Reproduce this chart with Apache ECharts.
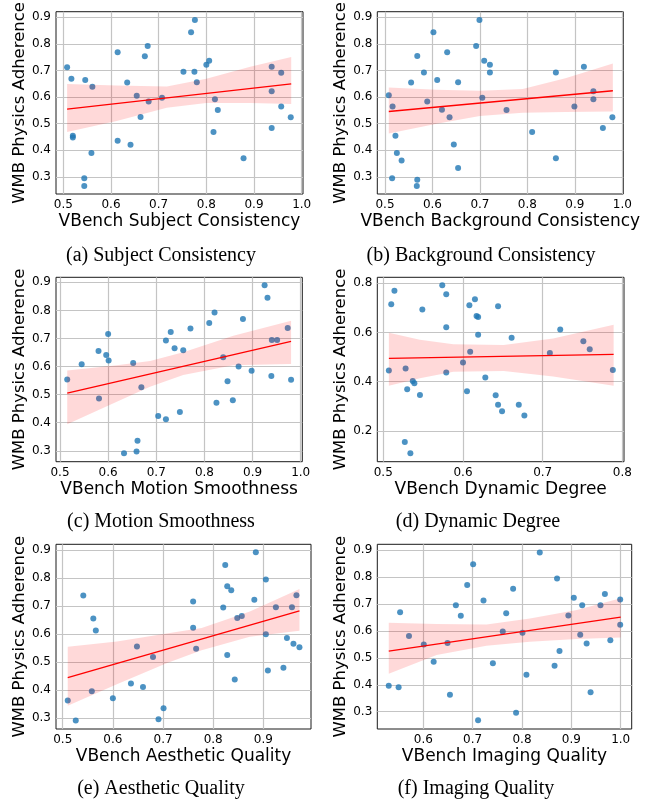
<!DOCTYPE html>
<html>
<head>
<meta charset="utf-8">
<script src="https://cdn.jsdelivr.net/npm/echarts@6/dist/echarts.min.js"></script>
<style>
  html, body { margin: 0; padding: 0; background: #fff; }
  #chart { width: 651px; height: 802px; }
</style>
</head>
<body>
<div id="chart"></div>
<script>
// points: [vbench score, WMB physics adherence]
const subjectPts = [[0.508,0.712],[0.517,0.669],[0.520,0.455],[0.520,0.448],[0.544,0.295],[0.544,0.266],[0.546,0.664],[0.559,0.390],[0.561,0.639],[0.614,0.769],[0.614,0.436],[0.634,0.655],[0.641,0.421],[0.654,0.605],[0.662,0.525],[0.671,0.754],[0.677,0.792],[0.679,0.584],[0.707,0.598],[0.752,0.695],[0.768,0.844],[0.775,0.695],[0.776,0.890],[0.780,0.656],[0.800,0.722],[0.806,0.737],[0.815,0.469],[0.818,0.592],[0.824,0.552],[0.878,0.370],[0.937,0.714],[0.937,0.622],[0.937,0.484],[0.957,0.692],[0.957,0.565],[0.977,0.524]];
const backgroundPts = [[0.508,0.607],[0.516,0.565],[0.515,0.295],[0.522,0.455],[0.525,0.390],[0.535,0.362],[0.555,0.655],[0.568,0.755],[0.568,0.290],[0.567,0.266],[0.582,0.693],[0.589,0.584],[0.602,0.844],[0.610,0.664],[0.620,0.553],[0.631,0.769],[0.636,0.524],[0.645,0.422],[0.654,0.656],[0.654,0.334],[0.692,0.792],[0.699,0.890],[0.705,0.598],[0.709,0.737],[0.721,0.722],[0.721,0.693],[0.756,0.552],[0.810,0.469],[0.860,0.693],[0.860,0.370],[0.899,0.565],[0.919,0.714],[0.939,0.622],[0.939,0.592],[0.959,0.484],[0.979,0.524]];
const motionPts = [[0.515,0.554],[0.545,0.608],[0.580,0.655],[0.581,0.486],[0.596,0.641],[0.600,0.716],[0.601,0.622],[0.633,0.291],[0.652,0.613],[0.659,0.297],[0.661,0.336],[0.669,0.526],[0.704,0.424],[0.720,0.412],[0.720,0.693],[0.730,0.723],[0.738,0.665],[0.749,0.438],[0.756,0.658],[0.771,0.736],[0.810,0.755],[0.821,0.793],[0.825,0.471],[0.839,0.633],[0.848,0.548],[0.859,0.480],[0.871,0.600],[0.880,0.769],[0.898,0.585],[0.925,0.890],[0.931,0.845],[0.939,0.566],[0.940,0.695],[0.951,0.695],[0.973,0.737],[0.980,0.553]];
const dynamicPts = [[0.507,0.446],[0.510,0.715],[0.514,0.769],[0.528,0.454],[0.527,0.155],[0.530,0.369],[0.534,0.110],[0.537,0.403],[0.539,0.394],[0.546,0.346],[0.549,0.693],[0.574,0.792],[0.579,0.755],[0.579,0.621],[0.579,0.437],[0.600,0.478],[0.605,0.361],[0.608,0.711],[0.609,0.522],[0.615,0.735],[0.617,0.667],[0.619,0.663],[0.619,0.591],[0.628,0.417],[0.641,0.345],[0.644,0.706],[0.644,0.307],[0.649,0.280],[0.661,0.579],[0.670,0.307],[0.677,0.263],[0.709,0.517],[0.722,0.612],[0.751,0.564],[0.759,0.532],[0.788,0.448]];
const aestheticPts = [[0.510,0.362],[0.526,0.290],[0.541,0.737],[0.558,0.395],[0.561,0.655],[0.566,0.612],[0.600,0.370],[0.636,0.423],[0.648,0.555],[0.660,0.410],[0.680,0.517],[0.691,0.295],[0.701,0.334],[0.760,0.716],[0.760,0.622],[0.766,0.547],[0.820,0.694],[0.824,0.846],[0.828,0.770],[0.828,0.524],[0.836,0.756],[0.843,0.437],[0.848,0.657],[0.857,0.664],[0.882,0.722],[0.885,0.892],[0.905,0.794],[0.905,0.599],[0.909,0.469],[0.925,0.695],[0.940,0.479],[0.947,0.585],[0.957,0.695],[0.960,0.565],[0.966,0.738],[0.972,0.552]];
const imagingPts = [[0.530,0.396],[0.550,0.391],[0.553,0.669],[0.571,0.581],[0.601,0.549],[0.621,0.485],[0.649,0.555],[0.654,0.363],[0.666,0.695],[0.676,0.656],[0.689,0.770],[0.701,0.847],[0.711,0.268],[0.722,0.713],[0.741,0.480],[0.761,0.598],[0.768,0.665],[0.782,0.756],[0.788,0.296],[0.801,0.593],[0.809,0.437],[0.836,0.891],[0.866,0.471],[0.871,0.794],[0.876,0.525],[0.894,0.657],[0.905,0.723],[0.918,0.586],[0.922,0.695],[0.931,0.553],[0.939,0.372],[0.959,0.695],[0.968,0.737],[0.979,0.565],[0.999,0.716],[0.999,0.623]];

// regression line ends and confidence band
const subjectFit = [[0.508,0.555],[0.978,0.650]];
const subjectBandX = [0.508,0.612,0.717,0.800,0.892,0.978];
const subjectBandLo = [0.469,0.510,0.560,0.578,0.578,0.574];
const subjectBandHi = [0.649,0.644,0.640,0.669,0.714,0.751];

const backgroundFit = [[0.508,0.546],[0.980,0.624]];
const backgroundBandX = [0.508,0.609,0.700,0.790,0.880,0.980];
const backgroundBandLo = [0.463,0.500,0.529,0.541,0.544,0.546];
const backgroundBandHi = [0.636,0.628,0.624,0.631,0.671,0.726];

const motionFit = [[0.515,0.505],[0.980,0.690]];
const motionBandX = [0.515,0.618,0.687,0.756,0.860,0.980];
const motionBandLo = [0.394,0.475,0.528,0.570,0.605,0.609];
const motionBandHi = [0.586,0.605,0.620,0.651,0.710,0.763];

const dynamicFit = [[0.507,0.495],[0.789,0.511]];
const dynamicBandX = [0.507,0.546,0.588,0.651,0.713,0.789];
const dynamicBandLo = [0.384,0.414,0.441,0.444,0.421,0.384];
const dynamicBandHi = [0.599,0.570,0.552,0.549,0.576,0.631];

const aestheticFit = [[0.510,0.444],[0.972,0.682]];
const aestheticBandX = [0.510,0.608,0.707,0.777,0.873,0.972];
const aestheticBandLo = [0.343,0.420,0.495,0.541,0.590,0.611];
const aestheticBandHi = [0.554,0.573,0.601,0.621,0.680,0.760];

const imagingFit = [[0.530,0.525],[1.000,0.651]];
const imagingBandX = [0.530,0.627,0.728,0.816,0.911,1.000];
const imagingBandLo = [0.441,0.510,0.545,0.560,0.570,0.575];
const imagingBandHi = [0.630,0.625,0.624,0.646,0.677,0.721];

// tick labels
const ticks3to9 = [0.3, 0.4, 0.5, 0.6, 0.7, 0.8, 0.9];
const ticks2to8 = [0.2, 0.4, 0.6, 0.8];
const ticks5to10 = [0.5, 0.6, 0.7, 0.8, 0.9, 1.0];
const ticks5to8 = [0.5, 0.6, 0.7, 0.8];
const ticks5to9 = [0.5, 0.6, 0.7, 0.8, 0.9];
const ticks6to10 = [0.6, 0.7, 0.8, 0.9, 1.0];

const yName = "WMB Physics Adherence";

const panels = [
  { pts: subjectPts, fit: subjectFit, bx: subjectBandX, lo: subjectBandLo, hi: subjectBandHi,
    xName: "VBench Subject Consistency", caption: "(a) Subject Consistency",
    xTicks: ticks5to10, yTicks: ticks3to9, xr: [0.4847, 1.0027], yr: [0.236, 0.921],
    rect: [56, 9.3, 247, 184.7], cap: [161, 256] },
  { pts: backgroundPts, fit: backgroundFit, bx: backgroundBandX, lo: backgroundBandLo, hi: backgroundBandHi,
    xName: "VBench Background Consistency", caption: "(b) Background Consistency",
    xTicks: ticks5to10, yTicks: ticks3to9, xr: [0.4838, 1.002], yr: [0.236, 0.921],
    rect: [377.3, 9.3, 246, 184.7], cap: [481, 256] },
  { pts: motionPts, fit: motionFit, bx: motionBandX, lo: motionBandLo, hi: motionBandHi,
    xName: "VBench Motion Smoothness", caption: "(c) Motion Smoothness",
    xTicks: ticks5to10, yTicks: ticks3to9, xr: [0.4917, 1.0033], yr: [0.261, 0.918],
    rect: [56, 277.3, 246.3, 184.4], cap: [161, 522] },
  { pts: dynamicPts, fit: dynamicFit, bx: dynamicBandX, lo: dynamicBandLo, hi: dynamicBandHi,
    xName: "VBench Dynamic Degree", caption: "(d) Dynamic Degree",
    xTicks: ticks5to8, yTicks: ticks2to8, xr: [0.4925, 0.802], yr: [0.0753, 0.824],
    rect: [377.3, 277.3, 246.7, 184.4], cap: [478, 522] },
  { pts: aestheticPts, fit: aestheticFit, bx: aestheticBandX, lo: aestheticBandLo, hi: aestheticBandHi,
    xName: "VBench Aesthetic Quality", caption: "(e) Aesthetic Quality",
    xTicks: ticks5to9, yTicks: ticks3to9, xr: [0.4866, 0.995], yr: [0.260, 0.920],
    rect: [56, 544.3, 255, 184.7], cap: [161, 789] },
  { pts: imagingPts, fit: imagingFit, bx: imagingBandX, lo: imagingBandLo, hi: imagingBandHi,
    xName: "VBench Imaging Quality", caption: "(f) Imaging Quality",
    xTicks: ticks6to10, yTicks: ticks3to9, xr: [0.5068, 1.0223], yr: [0.236, 0.921],
    rect: [377.3, 544.3, 254.4, 184.7], cap: [476, 789] }
];

const sans = "DejaVu Sans";
const fmt = (v) => v.toFixed(1);

const grids = [], xAxes = [], yAxes = [], series = [], texts = [];

panels.forEach((p, i) => {
  grids.push({
    left: p.rect[0], top: p.rect[1], width: p.rect[2], height: p.rect[3],
    show: true, borderColor: "#1a1a1a", borderWidth: 1, backgroundColor: "#fff"
  });
  xAxes.push({
    type: "value", gridIndex: i, min: p.xr[0], max: p.xr[1],
    name: p.xName, nameLocation: "middle", nameGap: 19,
    nameTextStyle: { fontFamily: sans, fontSize: 17, color: "#000" },
    axisLine: { show: false },
    axisTick: { show: false, customValues: p.xTicks },
    axisLabel: { customValues: p.xTicks, formatter: fmt, margin: 5,
      fontFamily: sans, fontSize: 12, color: "#000" },
    splitLine: { show: true, lineStyle: { color: "#c4c4c4", width: 1.2 } }
  });
  yAxes.push({
    type: "value", gridIndex: i, min: p.yr[0], max: p.yr[1],
    name: yName, nameLocation: "middle", nameGap: 26, nameRotate: 90,
    nameTextStyle: { fontFamily: sans, fontSize: 16.5, color: "#000" },
    axisLine: { show: false },
    axisTick: { show: false, customValues: p.yTicks },
    axisLabel: { customValues: p.yTicks, formatter: fmt, margin: 5,
      fontFamily: sans, fontSize: 12, color: "#000" },
    splitLine: { show: true, lineStyle: { color: "#c4c4c4", width: 1.2 } }
  });

  // scatter first, the band is painted over it like in the original
  series.push({
    type: "scatter", xAxisIndex: i, yAxisIndex: i, data: p.pts,
    symbolSize: 6, itemStyle: { color: "#1f77b4", opacity: 0.8 }, silent: true
  });
  // confidence band: one polygon, upper edge left->right then lower edge back
  const bandData = p.bx.map((x, k) => [x, p.lo[k], p.hi[k]]);
  series.push({
    type: "custom", xAxisIndex: i, yAxisIndex: i, data: bandData,
    encode: { x: 0, y: [1, 2] }, silent: true, z: 3,
    renderItem: (params, api) => {
      if (params.dataIndex !== 0) return null;
      const upper = bandData.map((d) => api.coord([d[0], d[2]]));
      const lower = bandData.map((d) => api.coord([d[0], d[1]])).reverse();
      return {
        type: "polygon",
        shape: { points: upper.concat(lower) },
        style: { fill: "rgba(255,0,0,0.15)", stroke: "none" }
      };
    }
  });
  series.push({
    type: "line", xAxisIndex: i, yAxisIndex: i, data: p.fit, z: 4,
    symbol: "none", lineStyle: { color: "#ff0000", width: 1.3 }, silent: true
  });

  texts.push({
    type: "text", x: p.cap[0], y: p.cap[1],
    style: { text: p.caption, fontFamily: "Liberation Serif", fontSize: 20,
      fill: "#000", align: "center", verticalAlign: "middle" }
  });
});

const chart = echarts.init(document.getElementById("chart"));
chart.setOption({
  animation: false,
  grid: grids,
  xAxis: xAxes,
  yAxis: yAxes,
  series: series,
  graphic: texts
});
</script>
</body>
</html>
